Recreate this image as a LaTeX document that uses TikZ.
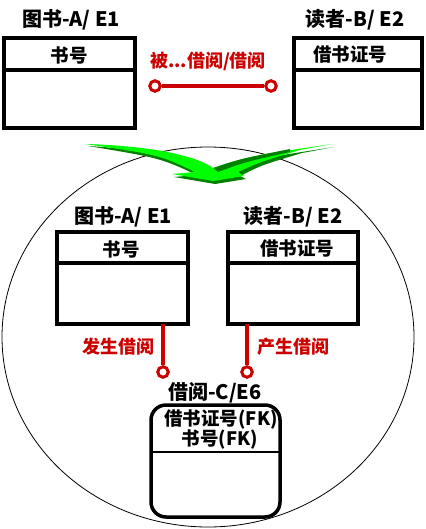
\documentclass[tikz,border=0pt]{standalone}
\usepackage{fontspec}
\setmainfont{Noto Sans CJK SC}
\definecolor{rd}{RGB}{204,0,0}
\definecolor{lg}{RGB}{0,255,0}
\definecolor{dg}{RGB}{0,128,0}
\tikzset{
  ebox/.style={draw=black, line width=4pt, fill=white, inner sep=0pt},
  ttl/.style={font=\fontsize{20}{20}\selectfont\bfseries, inner sep=0pt},
  key/.style={font=\fontsize{18.5}{18.5}\selectfont\bfseries, inner sep=0pt},
  rlab/.style={font=\fontsize{18}{18}\selectfont\bfseries, text=rd, inner sep=0pt},
  rdot/.style={circle, draw=rd, line width=3pt, fill=white, minimum size=10.5pt, inner sep=0pt},
  rline/.style={draw=rd, line width=3.2pt},
  divline/.style={draw=black, line width=3.5pt}
}
\begin{document}
\begin{tikzpicture}[x=1pt,y=-1pt]
\useasboundingbox (0,0) rectangle (425,529);
% big ellipse
\draw[line width=0.8pt] (208,337) ellipse [x radius=206, y radius=190];
% green arrow
\fill[dg] (88,146) .. controls (160,150) and (200,162) .. (215,172)
  .. controls (250,160) .. (334,147) -- (302,153) .. controls (262,165) .. (240,176)
  -- (246,179) -- (215,184) -- (174,177) -- (197,175) .. controls (160,158) .. (88,146) -- cycle;
\fill[lg] (85,144) .. controls (160,146) and (200,158) .. (213,168)
  .. controls (250,156) .. (332,144) -- (300,150) .. controls (260,162) .. (238,172)
  -- (244,176) -- (213,181) -- (172,174) -- (195,172) .. controls (160,155) .. (85,144) -- cycle;
\fill[dg] (213,168) .. controls (240,159) .. (290,149) -- (290,152) .. controls (245,162) .. (218,172) -- cycle;
% top boxes
\node[ebox, minimum width=131pt, minimum height=90pt] (A1) at (69.5,83) {};
\draw[divline] (4,70) -- (135,70);
\node[ttl] (tA1) at (71,20) {图书-A/ E1};
\node[key] (kA1) at (69,55) {书号};
\node[ebox, minimum width=128pt, minimum height=90pt] (B1) at (358,83) {};
\draw[divline] (294,70) -- (422,70);
\node[ttl] (tB1) at (355,20) {读者-B/ E2};
\node[key] (kB1) at (350,55) {借书证号};
% top relation
\node[rlab] (rl) at (208,61) {被...借阅/借阅};
\node[rdot] (c1) at (155,86) {};
\node[rdot] (c2) at (271,86) {};
\draw[rline] (c1) -- (c2);
% inner boxes
\node[ebox, minimum width=131pt, minimum height=92pt] (A2) at (122.5,278) {};
\draw[divline] (57,263) -- (188,263);
\node[ttl] (tA2) at (123,217) {图书-A/ E1};
\node[key] (kA2) at (121,249) {书号};
\node[ebox, minimum width=130pt, minimum height=92pt] (B2) at (293,278) {};
\draw[divline] (228,263) -- (358,263);
\node[ttl] (tB2) at (293,217) {读者-B/ E2};
\node[key] (kB2) at (297,249) {借书证号};
% relations to C
\coordinate (s3) at (163,324);
\coordinate (s4) at (247,324);
\node[rdot] (c3) at (163,372) {};
\node[rdot] (c4) at (247,372) {};
\draw[rline] (s3) -- (c3);
\draw[rline] (s4) -- (c4);
\node[rlab] (l3) at (118,347) {发生借阅};
\node[rlab] (l4) at (293,347) {产生借阅};
% C box
\node[draw=black, line width=3.5pt, rounded corners=15pt, fill=white, minimum width=129pt, minimum height=112pt, inner sep=0pt] (C) at (215.5,461) {};
\draw[line width=2.5pt] (151,452) -- (280,452);
\node[ttl] (tC) at (215,393) {借阅-C/E6};
\node[key] (kC1) at (221,420) {借书证号(FK)};
\node[key] (kC2) at (220,440) {书号(FK)};
\end{tikzpicture}
\end{document}
